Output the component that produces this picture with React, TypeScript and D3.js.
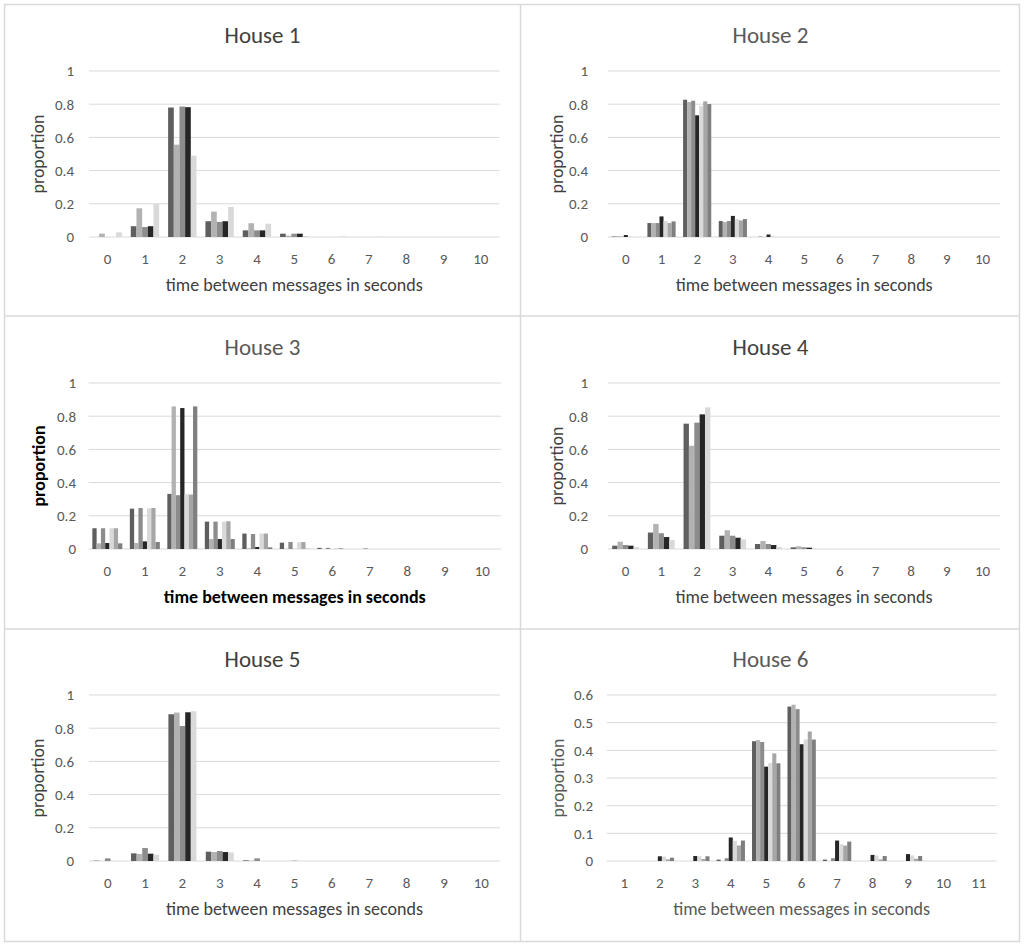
import React from "react";
import * as d3 from "d3";

// ---------- data ----------
const CATS_0_10 = ["0", "1", "2", "3", "4", "5", "6", "7", "8", "9", "10"];
const CATS_1_11 = ["1", "2", "3", "4", "5", "6", "7", "8", "9", "10", "11"];
const TICKS_UNIT = [0, 0.2, 0.4, 0.6, 0.8, 1];
const TICKS_SIX = [0, 0.1, 0.2, 0.3, 0.4, 0.5, 0.6];

const HOUSE1 = [
  [0, 0.065, 0.78, 0.095, 0.04, 0.02, 0, 0, 0, 0, 0],
  [0.02, 0.173, 0.556, 0.153, 0.083, 0.008, 0, 0, 0, 0, 0],
  [0, 0.06, 0.786, 0.091, 0.04, 0.02, 0, 0, 0, 0, 0],
  [0, 0.065, 0.782, 0.095, 0.04, 0.02, 0, 0, 0, 0, 0],
  [0.028, 0.2, 0.49, 0.181, 0.08, 0.006, 0.004, 0.002, 0, 0, 0],
];
const HOUSE2 = [
  [0.003, 0.084, 0.827, 0.096, 0, 0, 0, 0, 0, 0, 0],
  [0.005, 0.084, 0.813, 0.09, 0.005, 0, 0, 0, 0, 0, 0],
  [0.002, 0.084, 0.821, 0.096, 0, 0, 0, 0, 0, 0, 0],
  [0.012, 0.124, 0.733, 0.127, 0.015, 0, 0, 0, 0, 0, 0],
  [0.003, 0.096, 0.789, 0.108, 0.005, 0, 0, 0, 0, 0, 0],
  [0, 0.084, 0.817, 0.1, 0, 0, 0, 0, 0, 0, 0],
  [0, 0.094, 0.801, 0.108, 0, 0, 0, 0, 0, 0, 0],
];
const HOUSE3 = [
  [0.125, 0.243, 0.332, 0.165, 0.093, 0.038, 0.007, 0, 0, 0, 0],
  [0.034, 0.036, 0.859, 0.06, 0.004, 0.001, 0, 0, 0, 0, 0],
  [0.125, 0.247, 0.324, 0.165, 0.09, 0.042, 0.007, 0.004, 0, 0, 0],
  [0.036, 0.046, 0.849, 0.06, 0.012, 0, 0, 0, 0, 0, 0],
  [0.125, 0.245, 0.33, 0.165, 0.093, 0.04, 0.006, 0, 0, 0, 0],
  [0.125, 0.247, 0.328, 0.167, 0.093, 0.042, 0.006, 0, 0, 0, 0],
  [0.034, 0.042, 0.859, 0.06, 0.01, 0.001, 0, 0, 0, 0, 0],
];
const HOUSE4 = [
  [0.02, 0.099, 0.755, 0.08, 0.03, 0.01, 0, 0, 0, 0, 0],
  [0.044, 0.151, 0.622, 0.113, 0.048, 0.016, 0, 0, 0, 0, 0],
  [0.024, 0.095, 0.761, 0.08, 0.03, 0.01, 0, 0, 0, 0, 0],
  [0.02, 0.072, 0.811, 0.068, 0.024, 0.008, 0, 0, 0, 0, 0],
  [0.012, 0.054, 0.853, 0.058, 0.012, 0.003, 0, 0, 0, 0, 0],
];
const HOUSE5 = [
  [0.002, 0.046, 0.884, 0.056, 0.004, 0, 0, 0, 0, 0, 0],
  [0, 0.042, 0.894, 0.054, 0.002, 0, 0, 0, 0, 0, 0],
  [0.016, 0.078, 0.813, 0.06, 0.016, 0.002, 0, 0, 0, 0, 0],
  [0, 0.044, 0.896, 0.054, 0, 0, 0, 0, 0, 0, 0],
  [0, 0.038, 0.902, 0.052, 0, 0, 0, 0, 0, 0, 0],
];
const HOUSE6 = [
  [0, 0, 0, 0.005, 0.433, 0.558, 0.005, 0, 0, 0, 0],
  [0, 0, 0, 0, 0.437, 0.565, 0, 0, 0, 0, 0],
  [0, 0, 0, 0.01, 0.43, 0.549, 0.01, 0, 0, 0, 0],
  [0, 0.017, 0.018, 0.085, 0.341, 0.422, 0.074, 0.022, 0.025, 0, 0],
  [0, 0.016, 0.017, 0.073, 0.354, 0.439, 0.061, 0.02, 0.02, 0, 0],
  [0, 0.006, 0.007, 0.056, 0.389, 0.468, 0.056, 0.006, 0.008, 0, 0],
  [0, 0.012, 0.017, 0.074, 0.353, 0.439, 0.07, 0.018, 0.018, 0, 0],
];

const SERIES_COLORS = ["#5f5f5f", "#b2b2b2", "#8c8c8c", "#262626", "#d9d9d9", "#a6a6a6", "#7f7f7f"];

const TITLES = ["House 1", "House 2", "House 3", "House 4", "House 5", "House 6"];
const X_TITLE = "time between messages in seconds";
const Y_TITLE = "proportion";

// ---------- layout ----------
const FONT = "Carlito, Calibri, Lato, 'Open Sans', sans-serif";
const W = 1024;
const H = 947;
const COLS = [4, 521];
const ROWS = [4, 316, 628];

type Panel = {
  title: string;
  cats: string[];
  series: number[][];
  yMax: number;
  ticks: number[];
  col: number;
  row: number;
  plotL: number;
  plotR: number;
  labelR: number;
  ytx: number;
  titleColor: string;
  axisColor: string;
  bold: boolean;
  frac: number;
};

const PANELS: Panel[] = [
  { title: TITLES[0], cats: CATS_0_10, series: HOUSE1, yMax: 1, ticks: TICKS_UNIT, col: 0, row: 0, plotL: 89, plotR: 499.5, labelR: 74, ytx: 38, titleColor: "#404040", axisColor: "#404040", bold: false, frac: 0.76 },
  { title: TITLES[1], cats: CATS_0_10, series: HOUSE2, yMax: 1, ticks: TICKS_UNIT, col: 1, row: 0, plotL: 608, plotR: 1000.4, labelR: 588, ytx: 557, titleColor: "#595959", axisColor: "#404040", bold: false, frac: 0.79 },
  { title: TITLES[2], cats: CATS_0_10, series: HOUSE3, yMax: 1, ticks: TICKS_UNIT, col: 0, row: 1, plotL: 88.6, plotR: 501, labelR: 76, ytx: 39.7, titleColor: "#595959", axisColor: "#000000", bold: true, frac: 0.8 },
  { title: TITLES[3], cats: CATS_0_10, series: HOUSE4, yMax: 1, ticks: TICKS_UNIT, col: 1, row: 1, plotL: 607.7, plotR: 1000.4, labelR: 588, ytx: 557, titleColor: "#404040", axisColor: "#404040", bold: false, frac: 0.75 },
  { title: TITLES[4], cats: CATS_0_10, series: HOUSE5, yMax: 1, ticks: TICKS_UNIT, col: 0, row: 2, plotL: 89, plotR: 500, labelR: 74, ytx: 38, titleColor: "#404040", axisColor: "#404040", bold: false, frac: 0.75 },
  { title: TITLES[5], cats: CATS_1_11, series: HOUSE6, yMax: 0.6, ticks: TICKS_SIX, col: 1, row: 2, plotL: 606.7, plotR: 996.6, labelR: 593, ytx: 558, titleColor: "#595959", axisColor: "#595959", bold: false, frac: 0.8 },
];

const TITLE_SIZE = 23;
const AXIS_TITLE_SIZE = 18;
const TICK_SIZE = 15;

function ChartPanel({ p }: { p: Panel }) {
  const top = ROWS[p.row];
  const left = COLS[p.col];
  const panelW = p.col === 0 ? 517 : 499;
  const plotTop = top + 67;
  const plotBottom = top + 233;
  const x = d3.scaleBand<string>().domain(p.cats).range([p.plotL, p.plotR]).paddingInner(0).paddingOuter(0);
  const bw = x.bandwidth();
  const idx = p.series.map((_, i) => String(i));
  const xs = d3
    .scaleBand<string>()
    .domain(idx)
    .range([((1 - p.frac) / 2) * bw, ((1 + p.frac) / 2) * bw])
    .paddingInner(0);
  const y = d3.scaleLinear().domain([0, p.yMax]).range([plotBottom, plotTop]);
  const fmt = (v: number) => (v === 0 ? "0" : v === 1 ? "1" : d3.format(".1f")(v));
  const plotCx = (p.plotL + p.plotR) / 2;
  const plotCy = (plotTop + plotBottom) / 2;
  const weight = p.bold ? 700 : 400;
  return (
    <g>
      <text x={left + panelW / 2} y={top + 39} textAnchor="middle" fontSize={TITLE_SIZE} fill={p.titleColor} fontFamily={FONT}>
        {p.title}
      </text>
      {p.ticks.map((t) => (
        <g key={t}>
          <line x1={p.plotL} x2={p.plotR} y1={y(t)} y2={y(t)} stroke="#d9d9d9" strokeWidth={1} />
          <text x={p.labelR} y={y(t) + 5.4} textAnchor="end" fontSize={TICK_SIZE} fill="#595959" fontFamily={FONT}>
            {fmt(t)}
          </text>
        </g>
      ))}
      {p.series.map((vals, si) => (
        <g key={si} fill={SERIES_COLORS[si]}>
          {vals.map((v, ci) =>
            v > 0 ? (
              <rect
                key={ci}
                x={(x(p.cats[ci]) as number) + (xs(String(si)) as number)}
                width={xs.bandwidth()}
                y={y(v)}
                height={plotBottom - y(v)}
              />
            ) : null
          )}
        </g>
      ))}
      {p.cats.map((c) => (
        <text key={c} x={(x(c) as number) + bw / 2} y={plotBottom + 26.5} textAnchor="middle" fontSize={TICK_SIZE} fill="#595959" fontFamily={FONT}>
          {c}
        </text>
      ))}
      <text x={plotCx} y={plotBottom + 54} textAnchor="middle" fontSize={AXIS_TITLE_SIZE} fill={p.axisColor} fontWeight={weight} fontFamily={FONT}>
        {X_TITLE}
      </text>
      <text
        transform={`translate(${p.ytx + 5.5},${plotCy}) rotate(-90)`}
        textAnchor="middle"
        fontSize={AXIS_TITLE_SIZE}
        fill={p.axisColor}
        fontWeight={weight}
        fontFamily={FONT}
      >
        {Y_TITLE}
      </text>
    </g>
  );
}

export default function App() {
  return (
    <svg width={W} height={H} style={{ position: "absolute", left: 0, top: 0, background: "#ffffff" }}>
      <rect x={0} y={0} width={W} height={H} fill="#ffffff" />
      {PANELS.map((p, i) => (
        <ChartPanel key={i} p={p} />
      ))}
      <g stroke="#d9d9d9" strokeWidth={1.5} fill="none">
        <rect x={4.5} y={4.5} width={1015} height={937} />
        <line x1={520.5} x2={520.5} y1={4.5} y2={941.5} />
        <line x1={4.5} x2={1019.5} y1={316} y2={316} />
        <line x1={4.5} x2={1019.5} y1={629} y2={629} />
      </g>
    </svg>
  );
}
